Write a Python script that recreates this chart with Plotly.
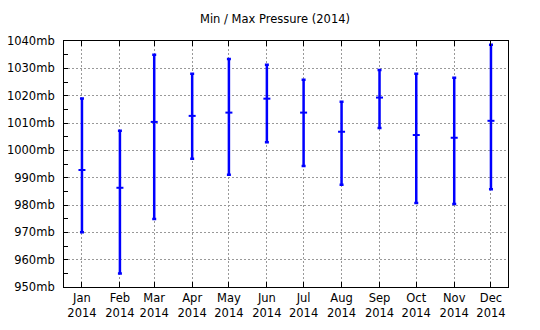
import plotly.graph_objects as go

months = ["2014-01-01", "2014-02-01", "2014-03-01", "2014-04-01", "2014-05-01", "2014-06-01",
          "2014-07-01", "2014-08-01", "2014-09-01", "2014-10-01", "2014-11-01", "2014-12-01"]
max_p = [1019, 1007.2, 1035, 1028, 1033.4, 1031.3, 1025.8, 1017.8, 1029.4, 1028, 1026.6, 1038.6]
mean_p = [992.8, 986.3, 1010.4, 1012.6, 1013.8, 1018.9, 1013.8, 1006.8, 1019.3, 1005.6, 1004.6, 1010.8]
min_p = [970, 954.9, 974.9, 996.9, 991.1, 1003, 994.3, 987.4, 1008.2, 980.7, 980.4, 985.8]

y_ticks = list(range(950, 1041, 10))
y_labels = [f"{v}mb" for v in y_ticks]

err_plus = [hi - m for hi, m in zip(max_p, mean_p)]
err_minus = [m - lo for lo, m in zip(min_p, mean_p)]

fig = go.Figure()
fig.add_trace(go.Scatter(
    x=months, y=mean_p, mode="markers",
    marker=dict(symbol="line-ew", size=5, line=dict(color="#0000ff", width=2), color="#0000ff"),
    error_y=dict(type="data", symmetric=False, array=err_plus, arrayminus=err_minus,
                 color="#0000ff", thickness=2.5, width=2),
    showlegend=False, hoverinfo="skip",
))

fig.update_layout(
    width=540, height=330,
    margin=dict(l=64, r=32, t=41, b=43),
    paper_bgcolor="white", plot_bgcolor="white",
    font=dict(family="DejaVu Sans", size=11.5, color="black"),
    title=dict(text="Min / Max Pressure (2014)", x=275 / 540, xanchor="center",
               y=1 - 19 / 330, yanchor="middle", font=dict(size=11.5, color="black")),
    xaxis=dict(
        type="date", range=["2013-12-17 08:00", "2014-12-14 22:00"], automargin=False,
        tickmode="array", tickvals=months,
        ticktext=[f"{m}<br>2014" for m in ["Jan", "Feb", "Mar", "Apr", "May", "Jun",
                                            "Jul", "Aug", "Sep", "Oct", "Nov", "Dec"]],
        ticks="inside", ticklen=5, tickcolor="black",
        showline=True, linecolor="black", linewidth=1, mirror="ticks",
        showgrid=True, gridcolor="#999999", griddash="2px,2px", gridwidth=1,
        zeroline=False,
    ),
    yaxis=dict(
        range=[950, 1040], tickmode="array", tickvals=y_ticks, ticktext=y_labels, automargin=False,
        ticks="inside", ticklen=4, tickcolor="black",
        minor=dict(ticks="inside", ticklen=4, dtick=5, tick0=950, tickcolor="black", showgrid=False),
        showline=True, linecolor="black", linewidth=1, mirror=True,
        showgrid=True, gridcolor="#999999", griddash="2px,2px", gridwidth=1,
        zeroline=False, ticklabelstandoff=6,
    ),
)

fig.write_html("out.html")
